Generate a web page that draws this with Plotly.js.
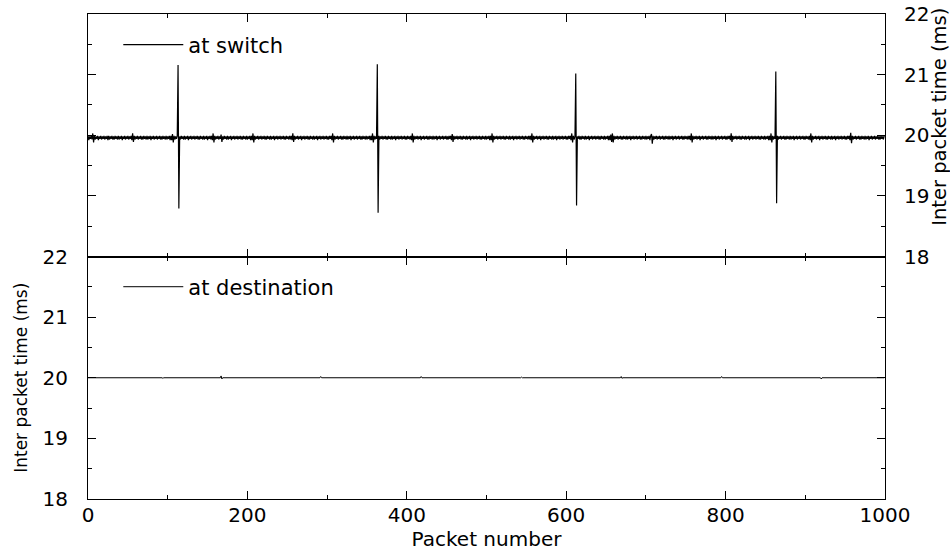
<!DOCTYPE html>
<html>
<head>
<meta charset="utf-8">
<script src="https://cdn.plot.ly/plotly-3.0.1.min.js"></script>
<style>html,body{margin:0;padding:0;background:#fff;}#chart{width:950px;height:552px;}</style>
</head>
<body>
<div id="chart"></div>
<script>
// Inter packet time (ms) measured at the switch, one value per packet
const switchTimes = [
19.99,19.92,19.98,19.94,19.99,19.93,20.03,19.88,19.99,19.93,19.98,19.94,19.99,19.92,19.98,19.94,19.99,19.93,19.98,19.94,19.99,19.93,19.98,19.94,19.99,
19.92,19.99,19.93,19.98,19.94,19.99,19.93,19.98,19.93,19.99,19.94,19.98,19.93,19.99,19.93,19.98,19.94,19.99,19.92,19.98,19.94,19.99,19.93,19.98,19.94,
19.99,19.93,19.98,19.94,19.99,19.92,20.03,19.89,19.99,19.93,19.98,19.94,19.99,19.93,19.98,19.94,19.99,19.93,19.98,19.93,19.99,19.94,19.98,19.93,19.99,
19.93,19.98,19.94,19.99,19.92,19.98,19.94,19.99,19.93,19.98,19.94,19.99,19.93,19.98,19.94,19.99,19.93,19.98,19.93,19.99,19.94,19.98,19.93,19.99,19.93,
19.98,19.94,19.99,19.92,19.99,19.92,20.02,19.88,19.99,19.93,19.98,19.94,19.99,21.16,18.79,19.98,19.93,19.99,19.94,19.98,19.93,19.99,19.93,19.98,19.94,
19.99,19.92,19.98,19.94,19.99,19.93,19.98,19.94,19.99,19.93,19.98,19.94,19.99,19.93,19.98,19.93,19.99,19.94,19.98,19.93,19.99,19.93,19.98,19.94,19.99,
19.92,19.98,19.94,19.99,19.93,19.99,19.92,20.03,19.88,19.99,19.93,19.98,19.94,19.99,19.93,19.98,19.94,20.01,19.89,19.98,19.93,19.99,19.94,19.98,19.93,
19.99,19.93,19.98,19.94,19.99,19.92,19.98,19.94,19.99,19.93,19.98,19.94,19.99,19.93,19.98,19.94,19.99,19.93,19.98,19.93,19.99,19.94,19.98,19.93,19.99,
19.93,19.98,19.94,19.99,19.92,19.99,19.92,20.03,19.88,19.99,19.93,19.98,19.94,19.99,19.93,19.98,19.94,19.99,19.93,19.98,19.94,19.99,19.93,19.98,19.93,
19.99,19.94,19.98,19.93,19.99,19.93,19.98,19.94,19.99,19.92,19.98,19.94,19.99,19.93,19.98,19.94,19.99,19.93,19.98,19.94,19.99,19.93,19.98,19.93,19.99,
19.94,19.98,19.93,19.99,19.93,19.99,19.92,20.03,19.89,19.99,19.93,19.98,19.94,19.99,19.93,19.98,19.94,19.99,19.92,19.98,19.94,19.99,19.93,19.98,19.94,
19.99,19.93,19.98,19.93,19.99,19.94,19.98,19.93,19.99,19.93,19.98,19.94,19.99,19.92,19.98,19.94,19.99,19.93,19.98,19.94,19.99,19.93,19.98,19.94,19.99,
19.93,19.98,19.93,19.99,19.94,19.99,19.92,20.03,19.88,19.99,19.93,19.98,19.94,19.99,19.93,19.98,19.94,19.99,19.93,19.98,19.93,19.99,19.94,19.98,19.93,
19.99,19.93,19.98,19.94,19.99,19.92,19.98,19.94,19.99,19.93,19.98,19.94,19.99,19.93,19.98,19.94,19.99,19.93,19.98,19.93,19.99,19.94,19.98,19.93,19.99,
19.93,19.98,19.94,19.99,19.92,19.99,19.92,20.03,19.88,19.99,19.93,19.98,19.94,21.17,18.72,19.99,19.93,19.98,19.94,19.99,19.93,19.98,19.94,19.99,19.93,
19.98,19.93,19.99,19.94,19.98,19.93,19.99,19.93,19.98,19.94,19.99,19.92,19.98,19.94,19.99,19.93,19.98,19.94,19.99,19.93,19.98,19.94,19.99,19.93,19.98,
19.93,19.99,19.94,19.98,19.93,19.99,19.92,20.03,19.88,19.99,19.93,19.98,19.94,19.99,19.93,19.98,19.94,19.99,19.92,19.98,19.94,19.99,19.93,19.98,19.94,
19.99,19.93,19.98,19.93,19.99,19.94,19.98,19.93,19.99,19.93,19.98,19.94,19.99,19.92,19.98,19.94,19.99,19.93,19.98,19.94,19.99,19.93,19.98,19.94,19.99,
19.93,19.98,19.93,19.99,19.94,19.99,19.92,20.02,19.89,19.99,19.93,19.98,19.94,19.99,19.93,19.98,19.94,19.99,19.93,19.98,19.93,19.99,19.94,19.98,19.93,
19.99,19.93,19.98,19.94,19.99,19.92,19.98,19.94,19.99,19.93,19.98,19.94,19.99,19.93,19.98,19.94,19.99,19.93,19.98,19.93,19.99,19.94,19.98,19.93,19.99,
19.93,19.98,19.94,19.99,19.92,19.99,19.92,20.03,19.88,19.99,19.93,19.98,19.94,19.99,19.93,19.98,19.94,19.99,19.93,19.98,19.94,19.99,19.93,19.98,19.93,
19.99,19.94,19.98,19.93,19.99,19.93,19.98,19.94,19.99,19.92,19.98,19.94,19.99,19.93,19.98,19.94,19.99,19.93,19.98,19.94,19.99,19.93,19.98,19.93,19.99,
19.94,19.98,19.93,19.99,19.93,19.99,19.92,20.03,19.88,19.99,19.93,19.98,19.94,19.99,19.93,19.98,19.94,19.99,19.92,19.98,19.94,19.99,19.93,19.98,19.94,
19.99,19.93,19.98,19.93,19.99,19.94,19.98,19.93,19.99,19.93,19.98,19.94,19.99,19.92,19.98,19.94,19.99,19.93,19.98,19.94,19.99,19.93,19.98,19.94,19.99,
19.93,19.98,19.93,19.99,19.94,19.99,19.92,20.03,19.88,19.99,19.93,19.98,21.02,18.84,19.98,19.94,19.99,19.93,19.98,19.93,19.99,19.94,19.98,19.93,19.99,
19.93,19.98,19.94,19.99,19.92,19.98,19.94,19.99,19.93,19.98,19.94,19.99,19.93,19.98,19.94,19.99,19.93,19.98,19.93,19.99,19.94,19.98,19.93,19.99,19.93,
19.98,19.94,19.99,19.92,19.99,19.92,20.01,19.89,20.03,19.88,19.99,19.93,19.98,19.94,19.99,19.93,19.98,19.94,19.99,19.93,19.98,19.93,19.99,19.94,19.98,
19.93,19.99,19.93,19.98,19.94,19.99,19.92,19.98,19.94,19.99,19.93,19.98,19.94,19.99,19.93,19.98,19.94,19.99,19.93,19.98,19.93,19.99,19.94,19.98,19.93,
19.99,19.93,19.98,19.94,19.99,19.92,19.99,20.02,19.86,19.99,19.93,19.98,19.94,19.99,19.93,19.98,19.94,19.99,19.93,19.98,19.94,19.99,19.93,19.98,19.93,
19.99,19.94,19.98,19.93,19.99,19.93,19.98,19.94,19.99,19.92,19.98,19.94,19.99,19.93,19.98,19.94,19.99,19.93,19.98,19.94,19.99,19.93,19.98,19.93,19.99,
19.94,19.98,19.93,19.99,19.93,19.99,19.92,20.03,19.88,19.99,19.93,19.98,19.94,19.99,19.93,19.98,19.94,19.99,19.92,19.98,19.94,19.99,19.93,19.98,19.94,
19.99,19.93,19.98,19.93,19.99,19.94,19.98,19.93,19.99,19.93,19.98,19.94,19.99,19.92,19.98,19.94,19.99,19.93,19.98,19.94,19.99,19.93,19.98,19.94,19.99,
19.93,19.98,19.93,19.99,19.94,19.99,19.92,20.03,19.89,19.99,19.93,19.98,19.94,19.99,19.93,19.98,19.94,19.99,19.93,19.98,19.93,19.99,19.94,19.98,19.93,
19.99,19.93,19.98,19.94,19.99,19.92,19.98,19.94,19.99,19.93,19.98,19.94,19.99,19.93,19.98,19.94,19.99,19.93,19.98,19.93,19.99,19.94,19.98,19.93,19.99,
19.93,19.98,19.94,19.99,19.92,19.99,19.92,20.03,19.88,19.99,19.93,19.98,19.94,21.05,18.88,19.99,19.93,19.98,19.94,19.99,19.93,19.98,19.94,19.99,19.93,
19.98,19.93,19.99,19.94,19.98,19.93,19.99,19.93,19.98,19.94,19.99,19.92,19.98,19.94,19.99,19.93,19.98,19.94,19.99,19.93,19.98,19.94,19.99,19.93,19.98,
19.93,19.99,19.94,19.98,19.93,19.99,19.92,20.03,19.88,19.99,19.93,19.98,19.94,19.99,19.93,19.98,19.94,19.99,19.92,19.98,19.94,19.99,19.93,19.98,19.94,
19.99,19.93,19.98,19.93,19.99,19.94,19.98,19.93,19.99,19.93,19.98,19.94,19.99,19.92,19.98,19.94,19.99,19.93,19.98,19.94,19.99,19.93,19.98,19.94,19.99,
19.93,19.98,19.93,19.99,19.94,19.99,19.92,20.04,19.87,19.99,19.93,19.98,19.94,19.99,19.93,19.98,19.94,19.99,19.93,19.98,19.93,19.99,19.94,19.98,19.93,
19.99,19.93,19.98,19.94,19.99,19.92,19.98,19.94,19.99,19.93,19.98,19.94,19.99,19.93,19.98,19.94,19.99,19.93,19.98,19.93,19.99,19.94,19.98,19.93,19.99
];

// Inter packet time (ms) at the destination: flat at 20 ms with tiny deviations
const destPackets = [0, 40, 41, 42, 93, 94, 95, 166, 167, 168, 169, 291, 292, 293, 417, 418, 419, 543, 544, 545, 668, 669, 670, 671, 794, 795, 796, 919, 920, 921, 999];
const destTimes   = [20.00, 20.00, 20.01, 20.00, 20.00, 19.99, 20.00, 20.00, 20.03, 19.98, 20.00, 20.00, 20.02, 20.00, 20.00, 20.02, 20.00, 20.00, 20.01, 20.00, 20.00, 20.02, 19.99, 20.00, 20.00, 20.02, 20.00, 20.00, 19.98, 20.00, 20.00];

const seriesNames = ["at switch", "at destination"];
const xTitle = "Packet number";
const yTitle = "Inter packet time (ms)";
const yTickVals = [18, 19, 20, 21, 22];
const xTickVals = [0, 200, 400, 600, 800, 1000];

const switchPackets = switchTimes.map((_, i) => i);

const tickFont = {family: "DejaVu Sans", size: 20, color: "#000"};

const traces = [
  {x: switchPackets, y: switchTimes, xaxis: "x2", yaxis: "y2", type: "scatter", mode: "lines",
   name: seriesNames[0], legend: "legend", line: {color: "#000", width: 1.2}},
  {x: destPackets, y: destTimes, xaxis: "x", yaxis: "y", type: "scatter", mode: "lines",
   name: seriesNames[1], legend: "legend2", line: {color: "#000", width: 1}}
];

const commonX = {
  range: [0, 1000], tickvals: xTickVals, ticks: "inside", ticklen: 8, tickwidth: 1, tickcolor: "#000",
  showline: true, linecolor: "#000", linewidth: 1, mirror: "allticks", showgrid: false, zeroline: false,
  minor: {dtick: 100, tick0: 0, ticks: "inside", ticklen: 4, tickcolor: "#000", showgrid: false},
  tickfont: tickFont
};
const commonY = {
  range: [18, 22], tickvals: yTickVals, ticks: "inside", ticklen: 8, tickwidth: 1, tickcolor: "#000",
  showline: true, linecolor: "#000", linewidth: 1, mirror: "allticks", showgrid: false, zeroline: false,
  minor: {dtick: 0.5, tick0: 18, ticks: "inside", ticklen: 4, tickcolor: "#000", showgrid: false},
  tickfont: tickFont
};

const layout = {
  width: 950, height: 552,
  margin: {l: 88, r: 65, t: 14, b: 53},
  paper_bgcolor: "#fff", plot_bgcolor: "#fff",
  showlegend: true, hovermode: false,
  font: {family: "DejaVu Sans", color: "#000"},
  xaxis: Object.assign({}, commonX, {anchor: "y", ticklabelstandoff: -2,
    title: {text: xTitle, font: {family: "DejaVu Sans", size: 20, color: "#000"}, standoff: 2}}),
  xaxis2: Object.assign({}, commonX, {anchor: "y2", matches: "x", showticklabels: false}),
  yaxis: Object.assign({}, commonY, {domain: [0, 0.5], anchor: "x", side: "left", ticklabelstandoff: 15,
    title: {text: yTitle, font: {family: "DejaVu Sans", size: 17, color: "#000"}, standoff: 10}}),
  yaxis2: Object.assign({}, commonY, {domain: [0.5, 1], anchor: "x2", side: "right", ticklabelstandoff: 14}),
  legend: {x: 0.038, xanchor: "left", y: 0.936, yanchor: "middle", bgcolor: "rgba(0,0,0,0)", borderwidth: 0,
    itemwidth: 60, font: {family: "DejaVu Sans", size: 21, color: "#000"}},
  legend2: {x: 0.038, xanchor: "left", y: 0.437, yanchor: "middle", bgcolor: "rgba(0,0,0,0)", borderwidth: 0,
    itemwidth: 60, font: {family: "DejaVu Sans", size: 21, color: "#000"}},
  annotations: [
    {text: yTitle, xref: "paper", yref: "paper", x: 1.069, y: 0.788, xanchor: "center", yanchor: "middle",
     textangle: -90, showarrow: false, font: {family: "DejaVu Sans", size: 19.5, color: "#000"}}
  ]
};

Plotly.newPlot("chart", traces, layout, {displayModeBar: false, staticPlot: true});
</script>
</body>
</html>
